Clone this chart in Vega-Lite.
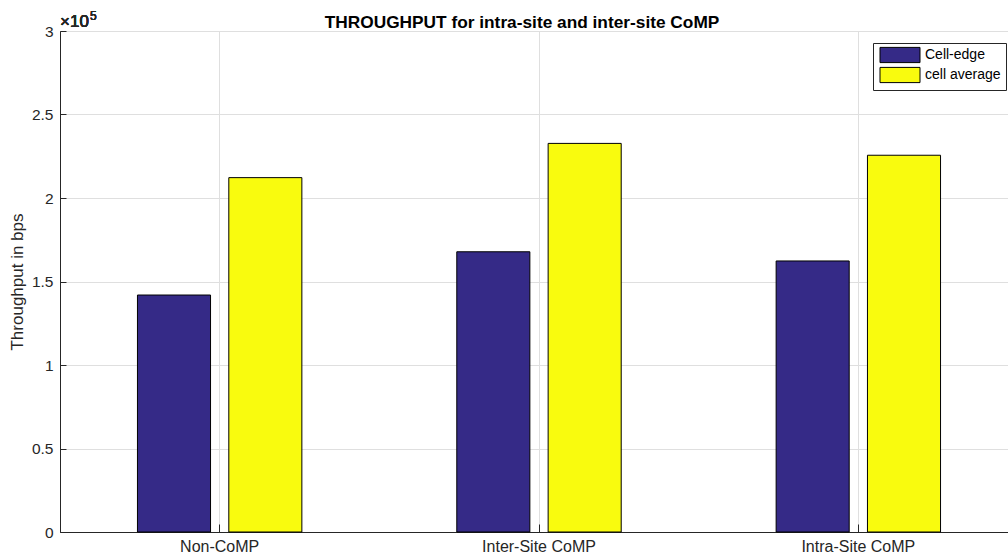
{
  "$schema": "https://vega.github.io/schema/vega-lite/v6.json",
  "width": 948,
  "height": 501,
  "autosize": {"type": "none"},
  "padding": {"left": 60, "top": 31, "right": 0, "bottom": 27},
  "background": "white",
  "title": {
    "text": "THROUGHPUT for intra-site and inter-site CoMP",
    "fontSize": 17.3,
    "font": "Liberation Sans",
    "fontWeight": "bold",
    "color": "#000000",
    "anchor": "middle",
    "dx": -12,
    "offset": -21
  },
  "config": {
    "view": {"stroke": "#262626", "strokeWidth": 1},
    "font": "Liberation Sans"
  },
  "data": {
    "values": [
      {"scheme": "Non-CoMP", "series": "Cell-edge", "throughput": 141900},
      {"scheme": "Non-CoMP", "series": "cell average", "throughput": 212200},
      {"scheme": "Inter-Site CoMP", "series": "Cell-edge", "throughput": 167800},
      {"scheme": "Inter-Site CoMP", "series": "cell average", "throughput": 232700},
      {"scheme": "Intra-Site CoMP", "series": "Cell-edge", "throughput": 162300},
      {"scheme": "Intra-Site CoMP", "series": "cell average", "throughput": 225600}
    ]
  },
  "layer": [
    {
      "mark": {"type": "bar", "stroke": "#000000", "strokeWidth": 1},
      "encoding": {
        "x": {
          "field": "scheme",
          "type": "nominal",
          "sort": ["Non-CoMP", "Inter-Site CoMP", "Intra-Site CoMP"],
          "scale": {"range": [0, 958], "paddingInner": 0, "paddingOuter": 0},
          "axis": {
            "title": null,
            "labelAngle": 0,
            "labelFontSize": 16,
            "labelColor": "#262626",
            "labelFont": "Liberation Sans",
            "tickSize": -8,
            "labelPadding": 14,
            "tickColor": "#262626",
            "domainColor": "#262626",
            "grid": true,
            "gridColor": "#dfdfdf",
            "bandPosition": 0.5
          }
        },
        "xOffset": {
          "field": "series",
          "sort": ["Cell-edge", "cell average"],
          "scale": {"paddingInner": 0.2, "paddingOuter": 0.848}
        },
        "y": {
          "field": "throughput",
          "type": "quantitative",
          "scale": {"domain": [0, 300000], "nice": false},
          "axis": {
            "values": [0, 50000, 100000, 150000, 200000, 250000, 300000],
            "labelExpr": "datum.value / 100000",
            "title": "Throughput in bps",
            "titleFontSize": 17,
            "titleFontWeight": "normal",
            "titleColor": "#262626",
            "titleFont": "Liberation Sans",
            "titlePadding": 5,
            "labelFontSize": 15.5,
            "labelColor": "#262626",
            "labelFont": "Liberation Sans",
            "tickSize": -6,
            "labelPadding": 13,
            "tickColor": "#262626",
            "domainColor": "#262626",
            "grid": true,
            "gridColor": "#dfdfdf"
          }
        },
        "color": {
          "field": "series",
          "type": "nominal",
          "scale": {"domain": ["Cell-edge", "cell average"], "range": ["#352A87", "#F9FB0E"]},
          "legend": {
            "title": null,
            "orient": "none",
            "legendX": 813,
            "legendY": 12,
            "padding": 5,
            "strokeColor": "#262626",
            "fillColor": "#ffffff",
            "symbolType": "M-5,-1.9H5V1.9H-5Z",
            "symbolSize": 64,
            "symbolStrokeColor": "#000000",
            "symbolStrokeWidth": 1,
            "symbolOpacity": 1,
            "symbolOffset": 15,
            "labelOffset": 18,
            "labelFontSize": 14,
            "labelColor": "#000000",
            "labelFont": "Liberation Sans",
            "rowPadding": 0
          }
        }
      }
    },
    {
      "mark": {"type": "text", "align": "left", "baseline": "alphabetic", "dy": -4, "fontSize": 17, "fontWeight": "normal", "color": "#262626", "font": "Liberation Sans"},
      "encoding": {
        "x": {"datum": "Non-CoMP", "type": "nominal", "bandPosition": 0},
        "y": {"datum": 300000, "type": "quantitative"},
        "text": {"value": "×10"}
      }
    },
    {
      "mark": {"type": "text", "align": "left", "baseline": "alphabetic", "dx": 30, "dy": -11, "fontSize": 12, "fontWeight": "normal", "color": "#262626", "font": "Liberation Sans"},
      "encoding": {
        "x": {"datum": "Non-CoMP", "type": "nominal", "bandPosition": 0},
        "y": {"datum": 300000, "type": "quantitative"},
        "text": {"value": "5"}
      }
    }
  ]
}
